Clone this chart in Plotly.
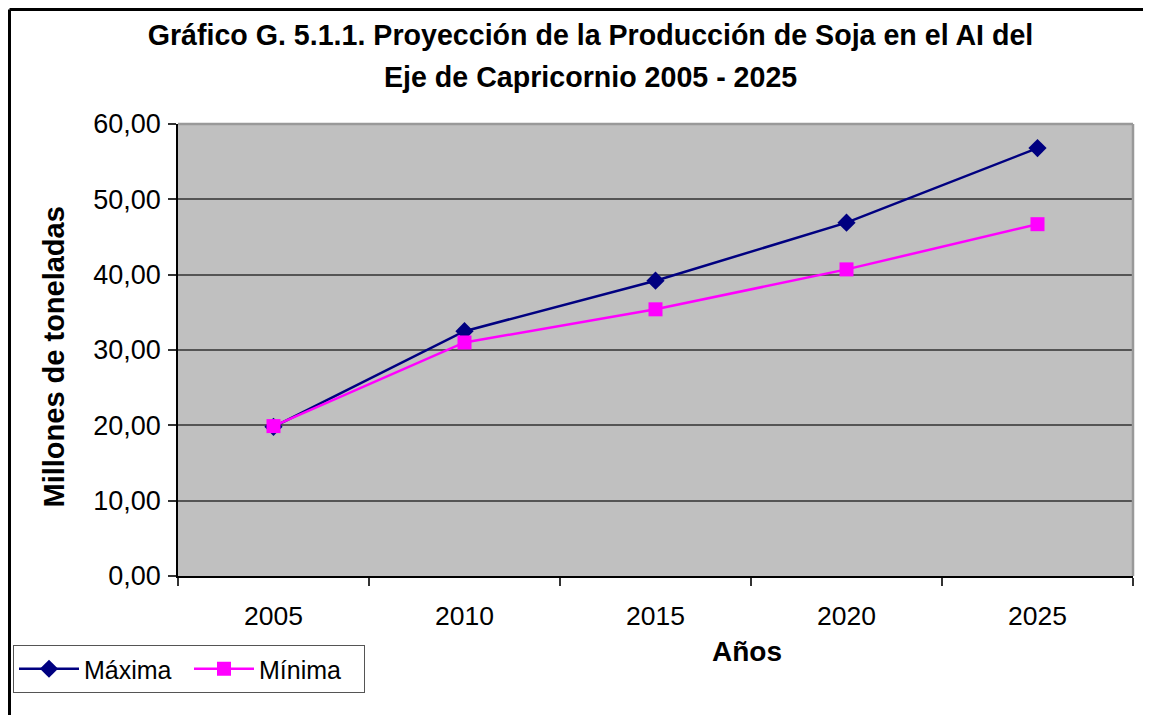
import plotly.graph_objects as go

years = ["2005", "2010", "2015", "2020", "2025"]
maxima = [19.8, 32.5, 39.2, 46.9, 56.8]
minima = [19.9, 31.0, 35.4, 40.7, 46.7]
y_ticks = [0, 10, 20, 30, 40, 50, 60]

FONT = "Liberation Sans, Arial, sans-serif"

W, H = 1151, 715
OFF = 8  # page body margin
# plot area in screen coordinates
L, R, T, B = 178, 1133, 124, 576
pw, ph = R - L, B - T

def px(x):
    return (x - L) / pw

def py(y):
    return (B - y) / ph

def cx(x):
    return (x - OFF) / W

def cy(y):
    return 1 - (y - OFF) / H

fig = go.Figure()
fig.add_trace(go.Scatter(
    x=years, y=maxima, name="Máxima", mode="lines+markers",
    line=dict(color="#000080", width=2.5),
    marker=dict(symbol="diamond", size=14, color="#000080"),
))
fig.add_trace(go.Scatter(
    x=years, y=minima, name="Mínima", mode="lines+markers",
    line=dict(color="#FF00FF", width=2.5),
    marker=dict(symbol="square", size=14, color="#FF00FF"),
))

fig.update_layout(
    width=W, height=H,
    margin=dict(l=L - OFF, r=W - (R - OFF), t=T - OFF, b=H - (B - OFF),
                autoexpand=False),
    paper_bgcolor="white",
    plot_bgcolor="#C0C0C0",
    separators=",.",
    font=dict(family=FONT, size=27, color="black"),
    title=dict(
        text="<b>Gráfico G. 5.1.1. Proyección de la Producción de Soja en el AI del</b>",
        x=cx(590.5), xanchor="center", xref="container",
        y=cy(35), yanchor="middle", yref="container",
        font=dict(family=FONT, size=28.6, color="black"),
    ),
    xaxis=dict(
        type="category", tickson="boundaries", ticks="outside", ticklen=8,
        tickcolor="#333", tickwidth=1.5,
        showgrid=False, showline=True, linecolor="black", linewidth=1.5,
        tickfont=dict(family=FONT, size=26.5), ticklabelstandoff=15,
        range=[-0.5, 4.5],
    ),
    yaxis=dict(
        range=[0, 60], tickvals=y_ticks, tickformat=".2f",
        ticks="outside", ticklen=8, tickcolor="#333", tickwidth=1.5,
        showgrid=True, gridcolor="#555555", gridwidth=1.5,
        zeroline=False, showline=True, linecolor="black", linewidth=1.5,
        tickfont=dict(family=FONT, size=27), ticklabelstandoff=2,
    ),
    showlegend=True,
    legend=dict(
        orientation="h", xref="container", yref="container",
        x=cx(13), y=cy(645), xanchor="left", yanchor="top",
        bordercolor="#555555", borderwidth=1, bgcolor="white",
        font=dict(family=FONT, size=25),
        itemwidth=60, entrywidth=100, tracegroupgap=0,
    ),
    annotations=[
        dict(text="<b>Eje de Capricornio 2005 - 2025</b>",
             x=px(590), y=py(77), xref="paper", yref="paper",
             xanchor="center", yanchor="middle", showarrow=False,
             font=dict(family=FONT, size=28.6)),
        dict(text="<b>Millones de toneladas</b>", textangle=-90,
             x=px(35), y=py(357.5), xref="paper", yref="paper",
             showarrow=False, font=dict(family=FONT, size=29)),
        dict(text="<b>Años</b>",
             x=px(746.5), y=py(669), xref="paper", yref="paper",
             showarrow=False, font=dict(family=FONT, size=28)),
    ],
    shapes=[
        dict(type="line", xref="paper", yref="paper",
             x0=px(9.5), x1=px(1160), y0=py(9.5), y1=py(9.5),
             line=dict(color="black", width=3)),
        dict(type="line", xref="paper", yref="paper",
             x0=px(9.5), x1=px(9.5), y0=py(9.5), y1=py(730),
             line=dict(color="black", width=3)),
        dict(type="line", xref="paper", yref="paper",
             x0=0, x1=1, y0=1, y1=1, line=dict(color="#999999", width=2.5)),
        dict(type="line", xref="paper", yref="paper",
             x0=1, x1=1, y0=0, y1=1, line=dict(color="#999999", width=2.5)),
    ],
)

fig.write_html("out.html")
